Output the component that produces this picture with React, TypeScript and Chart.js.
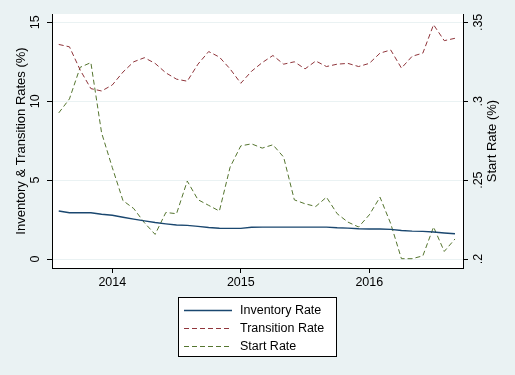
import React, { useEffect, useRef } from "react";
import { Chart, registerables } from "chart.js";

Chart.register(...registerables);

// ---- data ----
const months = [
  "2013-08", "2013-09", "2013-10", "2013-11", "2013-12",
  "2014-01", "2014-02", "2014-03", "2014-04", "2014-05", "2014-06",
  "2014-07", "2014-08", "2014-09", "2014-10", "2014-11", "2014-12",
  "2015-01", "2015-02", "2015-03", "2015-04", "2015-05", "2015-06",
  "2015-07", "2015-08", "2015-09", "2015-10", "2015-11", "2015-12",
  "2016-01", "2016-02", "2016-03", "2016-04", "2016-05", "2016-06",
  "2016-07", "2016-08", "2016-09",
];

const inventoryRate = [
  3.04, 2.93, 2.93, 2.93, 2.84,
  2.77, 2.65, 2.53, 2.42, 2.31, 2.23,
  2.16, 2.13, 2.07, 2.0, 1.95, 1.94,
  1.94, 2.01, 2.02, 2.02, 2.02, 2.02,
  2.02, 2.02, 2.02, 1.98, 1.96, 1.92,
  1.9, 1.9, 1.88, 1.81, 1.77, 1.75,
  1.71, 1.65, 1.6,
];

const transitionRate = [
  13.6, 13.45, 11.98, 10.8, 10.65,
  11.03, 11.85, 12.5, 12.76, 12.4, 11.8,
  11.4, 11.27, 12.35, 13.15, 12.8, 12.05,
  11.14, 11.9, 12.45, 12.9, 12.35, 12.5,
  12.05, 12.55, 12.2, 12.35, 12.4, 12.2,
  12.4, 13.05, 13.25, 12.1, 12.85, 13.05,
  14.85, 13.84, 13.99,
];

const startRate = [
  0.2926, 0.3015, 0.3215, 0.3245, 0.28,
  0.258, 0.237, 0.232, 0.223, 0.2156, 0.2295,
  0.2287, 0.2494, 0.2376, 0.234, 0.2304, 0.2582,
  0.2717, 0.273, 0.2703, 0.2724, 0.2646, 0.2375,
  0.235, 0.2333, 0.2392, 0.2287, 0.2234, 0.2203,
  0.228, 0.2392, 0.2224, 0.2002, 0.2002, 0.202,
  0.2203, 0.2048, 0.2127,
];

const seriesLabels = ["Inventory Rate", "Transition Rate", "Start Rate"];
const xTickLabels = ["2014", "2015", "2016"];
const leftTicks = [0, 5, 10, 15];
const rightTicks = [0.2, 0.25, 0.3, 0.35];
const leftTitle = "Inventory & Transition Rates (%)";
const rightTitle = "Start Rate (%)";

// ---- helpers ----
const monthIndex = (s: string) => {
  const [y, m] = s.split("-").map(Number);
  return (y - 2014) * 12 + (m - 1);
};
const toPoints = (vals: number[]) =>
  months.map((m, i) => ({ x: monthIndex(m), y: vals[i] }));

const FONT = '"Liberation Sans", Arial, sans-serif';
const BG = "#EAF2F3";
const NAVY = "#1a476f";
const MAROON = "#90353b";
const GREEN = "#55752f";

const backgroundPlugin = {
  id: "stataBackground",
  beforeDraw(chart: any) {
    const { ctx, chartArea } = chart;
    ctx.save();
    ctx.fillStyle = BG;
    ctx.fillRect(0, 0, chart.width, chart.height);
    ctx.fillStyle = "#ffffff";
    ctx.fillRect(
      chartArea.left,
      chartArea.top,
      chartArea.right - chartArea.left,
      chartArea.bottom - chartArea.top
    );
    ctx.restore();
  },
};

const rightTitlePlugin = {
  id: "rightTitle",
  afterDraw(chart: any) {
    const { ctx, chartArea } = chart;
    ctx.save();
    ctx.translate(492, (chartArea.top + chartArea.bottom) / 2);
    ctx.rotate(-Math.PI / 2);
    ctx.font = `13px ${FONT}`;
    ctx.fillStyle = "#000";
    ctx.textAlign = "center";
    ctx.textBaseline = "middle";
    ctx.fillText(rightTitle, 0, 0);
    ctx.restore();
  },
};

const legendPlugin = {
  id: "boxLegend",
  afterDraw(chart: any) {
    const { ctx } = chart;
    const left = 178;
    const top = 297;
    const w = 158;
    const h = 59;
    ctx.save();
    ctx.fillStyle = "#ffffff";
    ctx.fillRect(left, top, w, h);
    ctx.strokeStyle = "#000";
    ctx.lineWidth = 1;
    ctx.setLineDash([]);
    ctx.strokeRect(left + 0.5, top + 0.5, w, h);
    ctx.font = `12.5px ${FONT}`;
    ctx.textBaseline = "middle";
    ctx.textAlign = "left";
    chart.data.datasets.forEach((ds: any, i: number) => {
      const y = top + 13.5 + i * 18;
      ctx.beginPath();
      ctx.strokeStyle = ds.borderColor;
      ctx.lineWidth = ds.borderWidth;
      ctx.setLineDash(ds.borderDash || []);
      ctx.moveTo(184, y);
      ctx.lineTo(232, y);
      ctx.stroke();
      ctx.setLineDash([]);
      ctx.fillStyle = "#000";
      ctx.fillText(ds.label, 240, y);
    });
    ctx.restore();
  },
};

export default function App() {
  const ref = useRef<HTMLCanvasElement | null>(null);

  useEffect(() => {
    document.body.style.margin = "0";
    if (!ref.current) return;
    Chart.defaults.font.family = FONT;
    Chart.defaults.color = "#000";

    const chart = new Chart(ref.current, {
      type: "line",
      data: {
        datasets: [
          {
            label: seriesLabels[0],
            data: toPoints(inventoryRate),
            borderColor: NAVY,
            borderWidth: 1.4,
            pointRadius: 0,
            tension: 0,
            yAxisID: "y",
          },
          {
            label: seriesLabels[1],
            data: toPoints(transitionRate),
            borderColor: MAROON,
            borderWidth: 1,
            borderDash: [5, 3],
            pointRadius: 0,
            tension: 0,
            yAxisID: "y",
          },
          {
            label: seriesLabels[2],
            data: toPoints(startRate),
            borderColor: GREEN,
            borderWidth: 1,
            borderDash: [5, 3],
            pointRadius: 0,
            tension: 0,
            yAxisID: "y1",
          },
        ] as any,
      },
      options: {
        responsive: false,
        animation: false,
        events: [],
        layout: { padding: { top: 14, left: 0, right: 0, bottom: 77 } },
        plugins: {
          legend: { display: false },
          tooltip: { enabled: false },
          title: { display: false },
        },
        scales: {
          x: {
            type: "linear",
            position: "bottom",
            min: -5.63,
            max: 32.75,
            afterBuildTicks: (scale: any) => {
              scale.ticks = xTickLabels.map((l) => ({
                value: monthIndex(`${l}-01`),
              }));
            },
            afterFit: (scale: any) => {
              scale.height = 30;
            },
            ticks: {
              font: { size: 12.5 },
              color: "#000",
              padding: 2.5,
              maxRotation: 0,
              minRotation: 0,
              callback: (v: any) => String(2014 + Math.round(Number(v) / 12)),
            },
            grid: {
              display: true,
              drawOnChartArea: false,
              drawTicks: true,
              tickLength: 5,
              tickColor: "#000",
              tickWidth: 1,
            },
            border: { display: true, color: "#000", width: 1 },
          },
          y: {
            type: "linear",
            position: "left",
            min: -0.57,
            max: 15.53,
            afterBuildTicks: (scale: any) => {
              scale.ticks = leftTicks.map((v) => ({ value: v }));
            },
            afterFit: (scale: any) => {
              scale.width = 52;
            },
            ticks: {
              font: { size: 12.5 },
              color: "#000",
              minRotation: 90,
              maxRotation: 90,
              crossAlign: "center",
              padding: 5,
              callback: (v: any) => String(v),
            },
            grid: {
              display: true,
              drawOnChartArea: true,
              color: BG,
              lineWidth: 1,
              drawTicks: true,
              tickLength: 5,
              tickColor: "#000",
              tickWidth: 1,
            },
            border: { display: true, color: "#000", width: 1 },
            title: {
              display: true,
              text: leftTitle,
              color: "#000",
              font: { size: 13 },
              padding: { top: 13.9, bottom: 0 },
            },
          },
          y1: {
            type: "linear",
            position: "right",
            min: 0.1943,
            max: 0.3553,
            afterBuildTicks: (scale: any) => {
              scale.ticks = rightTicks.map((v) => ({ value: v }));
            },
            afterFit: (scale: any) => {
              scale.width = 52;
            },
            ticks: {
              font: { size: 12.5 },
              color: "#000",
              minRotation: 90,
              maxRotation: 90,
              crossAlign: "center",
              padding: 1.6,
              callback: (v: any) => String(Number(v)).replace(/^0/, ""),
            },
            grid: {
              display: true,
              drawOnChartArea: false,
              drawTicks: true,
              tickLength: 5,
              tickColor: "#000",
              tickWidth: 1,
            },
            border: { display: true, color: "#000", width: 1 },
          },
        },
      } as any,
      plugins: [backgroundPlugin, rightTitlePlugin, legendPlugin],
    });

    return () => chart.destroy();
  }, []);

  return (
    <div style={{ position: "fixed", left: 0, top: 0, width: 515, height: 375 }}>
      <canvas ref={ref} width={515} height={375} style={{ display: "block" }} />
    </div>
  );
}
